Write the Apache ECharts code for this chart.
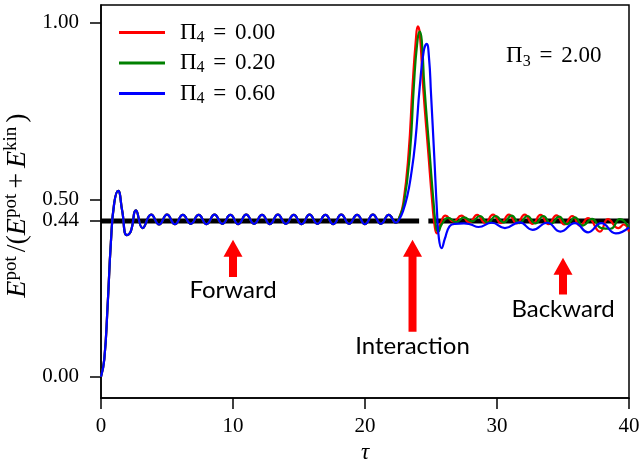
<!DOCTYPE html>
<html><head><meta charset="utf-8">
<script src="https://cdn.jsdelivr.net/npm/echarts@6/dist/echarts.min.js"></script>
<style>html,body{margin:0;padding:0;background:#fff}#c{width:641px;height:462px}</style>
</head><body><div id="c"></div>
<script>
// ---- data ----
const xTicks = [0, 10, 20, 30, 40];
const yTicks = [0, 0.44, 0.5, 1.0];
const seriesNames = ['Π4 = 0.00', 'Π4 = 0.20', 'Π4 = 0.60'];
const seriesColors = ['#ff0000', '#008000', '#0000ff'];

// common forward-propagation part (identical for all three)
const forwardPart = [
  [0,0],[0.25,0.05],[0.5,0.2],[0.75,0.38],[1.0,0.49],[1.3,0.525],[1.6,0.47],[1.95,0.40],
  [2.25,0.41],[2.65,0.47],[3.15,0.42],[3.8,0.458],[4.4,0.43],[5.0,0.458],[5.6,0.431],
  [6.2,0.457],[6.8,0.432],[7.4,0.457],[8.0,0.431],[8.6,0.458],[9.2,0.432],[9.8,0.457],
  [10.4,0.431],[11.0,0.458],[11.6,0.432],[12.2,0.457],[12.8,0.431],[13.4,0.458],[14.0,0.432],
  [14.6,0.457],[15.2,0.431],[15.8,0.458],[16.4,0.432],[17.0,0.457],[17.6,0.431],[18.2,0.458],
  [18.8,0.432],[19.4,0.457],[20.0,0.431],[20.6,0.458],[21.2,0.432],[21.8,0.457],[22.35,0.435]
];
const redAfter = [
  [22.6,0.45],[22.9,0.49],[23.3,0.63],[23.6,0.82],[23.85,0.95],[24.0,0.99],[24.15,0.97],
  [24.4,0.82],[24.8,0.63],[25.1,0.49],[25.3,0.42],[25.45,0.405],[25.7,0.43],[26.1,0.455],
  [26.7,0.438],[27.3,0.455],[27.9,0.436],[28.5,0.457],[29.1,0.435],[29.7,0.458],[30.3,0.434],
  [30.9,0.458],[31.5,0.433],[32.1,0.458],[32.7,0.432],[33.3,0.457],[33.9,0.431],[34.5,0.456],
  [35.1,0.43],[35.7,0.454],[36.3,0.427],[36.9,0.448],[37.8,0.41],[38.4,0.445],[39.2,0.42],
  [39.6,0.43],[40,0.41]
];
const greenAfter = [
  [22.6,0.45],[22.95,0.49],[23.4,0.63],[23.7,0.82],[23.95,0.94],[24.15,0.975],[24.3,0.95],
  [24.5,0.82],[24.9,0.63],[25.2,0.49],[25.4,0.42],[25.55,0.41],[25.8,0.43],[26.3,0.449],
  [26.9,0.437],[27.5,0.45],[28.1,0.439],[28.7,0.454],[29.3,0.435],[29.9,0.454],[30.5,0.436],
  [31.1,0.455],[31.7,0.434],[32.3,0.454],[32.9,0.433],[33.5,0.454],[34.1,0.432],[34.7,0.452],
  [35.3,0.431],[35.9,0.45],[36.5,0.427],[37.2,0.446],[37.9,0.42],[38.6,0.418],[39.3,0.445],
  [40,0.42]
];
const blueAfter = [
  [22.6,0.445],[22.9,0.47],[23.2,0.51],[23.45,0.56],[23.8,0.66],[24.15,0.82],[24.45,0.92],
  [24.67,0.94],[24.85,0.9],[25.0,0.8],[25.25,0.62],[25.45,0.47],[25.6,0.39],[25.8,0.363],
  [26.05,0.39],[26.4,0.425],[26.8,0.432],[27.5,0.433],[28.0,0.43],[28.6,0.423],[29.6,0.435],
  [30.6,0.42],[31.7,0.436],[32.7,0.415],[33.8,0.435],[34.8,0.41],[35.9,0.434],[36.9,0.408],
  [37.9,0.434],[39.0,0.405],[40,0.422]
];
const refLevel = 0.44;
const refSegments = [[0, 24.1], [24.8, 40]];
// annotation arrows (data coordinates): x, arrow tip, arrow tail, label centre
const arrowLabels = ['Forward', 'Interaction', 'Backward'];
const arrowX = [10, 23.6, 35];
const arrowTip = [0.387, 0.387, 0.336];
const arrowTail = [0.282, 0.127, 0.232];
const arrowTextY = [0.243, 0.085, 0.19];
const paramText = { label: 'Π3 = 2.00', x: 34.3, y: 0.905 };

// ---- chart ----
const serif = 'Liberation Serif';
const chart = echarts.init(document.getElementById('c'), null, { renderer: 'canvas' });
const allData = [forwardPart.concat(redAfter), forwardPart.concat(greenAfter), forwardPart.concat(blueAfter)];

const mathRich = {
  p: { fontFamily: serif, fontSize: 23, lineHeight: 26, color: '#000' },
  q: { fontFamily: serif, fontSize: 23, lineHeight: 26, color: '#000', padding: [0, 3, 0, 3] },
  s: { fontFamily: serif, fontSize: 16, lineHeight: 16, verticalAlign: 'bottom', color: '#000' }
};
function piLabel(name) {
  const m = name.match(/^Π(\d) = (.*)$/);
  return '{p|Π}{s|' + m[1] + '}{q| = }{p|' + m[2] + '}';
}

const series = [];
refSegments.forEach((seg, i) => {
  series.push({
    name: 'ref' + i, type: 'line', data: [[seg[0], refLevel], [seg[1], refLevel]],
    showSymbol: false, symbol: 'none', silent: true,
    lineStyle: { color: '#000', width: 5 }, itemStyle: { color: '#000' }
  });
});
seriesNames.forEach((n, i) => {
  series.push({
    name: n, type: 'line', data: allData[i], smooth: 0.5, symbol: 'none', showSymbol: false,
    lineStyle: { color: seriesColors[i], width: 2.2 }, itemStyle: { color: seriesColors[i] }
  });
});

chart.setOption({
  animation: false,
  backgroundColor: '#fff',
  grid: { left: 101, right: 12, top: 5, bottom: 64, show: true, borderColor: '#000', borderWidth: 1.5,
          containLabel: false, outerBoundsMode: 'none' },
  legend: {
    data: seriesNames, orient: 'vertical', left: 114, top: 16, icon: 'rect',
    itemWidth: 46, itemHeight: 3, itemGap: 6,
    formatter: piLabel, textStyle: { rich: mathRich, padding: [0, 0, 0, 10] }
  },
  xAxis: {
    type: 'value', min: 0, max: 40,
    axisLine: { onZero: false, lineStyle: { color: '#000', width: 1.5 } },
    axisTick: { customValues: xTicks, length: 11, lineStyle: { color: '#000', width: 1.5 } },
    axisLabel: { customValues: xTicks, color: '#000', fontFamily: serif, fontSize: 21, margin: 18 },
    splitLine: { show: false },
    name: 'τ', nameLocation: 'middle', nameGap: 40,
    nameTextStyle: { color: '#000', fontFamily: serif, fontStyle: 'italic', fontSize: 23 }
  },
  yAxis: {
    type: 'value', min: -0.06, max: 1.05,
    axisLine: { onZero: false, lineStyle: { color: '#000', width: 1.5 } },
    axisTick: { customValues: yTicks, length: 11, lineStyle: { color: '#000', width: 1.5 } },
    axisLabel: { customValues: yTicks, color: '#000', fontFamily: serif, fontSize: 21, margin: 22,
                 formatter: v => v.toFixed(2) },
    splitLine: { show: false },
    name: '{e|E}{sup|pot}{n|/(}{e|E}{sup|pot}{q|+}{e|E}{sup|kin}{n|)}',
    nameLocation: 'middle', nameGap: 66, nameRotate: 90,
    nameTextStyle: {
      padding: [0, 8, 0, 0],
      rich: {
        e: { fontFamily: serif, fontStyle: 'italic', fontSize: 28, lineHeight: 32, color: '#000' },
        n: { fontFamily: serif, fontSize: 28, lineHeight: 32, color: '#000', padding: [0, 0, 0, 4] },
        q: { fontFamily: serif, fontSize: 28, lineHeight: 32, color: '#000', padding: [0, 5, 0, 5] },
        sup: { fontFamily: serif, fontSize: 19, lineHeight: 19, verticalAlign: 'top', color: '#000' }
      }
    }
  },
  series: series
});

// annotations positioned via the axes
const graphics = [];
arrowLabels.forEach((t, i) => {
  const tip = chart.convertToPixel({ gridIndex: 0 }, [arrowX[i], arrowTip[i]]);
  const tail = chart.convertToPixel({ gridIndex: 0 }, [arrowX[i], arrowTail[i]]);
  const lab = chart.convertToPixel({ gridIndex: 0 }, [arrowX[i], arrowTextY[i]]);
  const cx = tip[0], hw = 9.5, sw = 4, hl = 17;
  graphics.push({
    type: 'polygon', silent: true,
    shape: { points: [[cx, tip[1]], [cx + hw, tip[1] + hl], [cx + sw, tip[1] + hl], [cx + sw, tail[1]],
                      [cx - sw, tail[1]], [cx - sw, tip[1] + hl], [cx - hw, tip[1] + hl]] },
    style: { fill: '#ff0000' }
  });
  graphics.push({
    type: 'text', silent: true, x: lab[0], y: lab[1],
    style: { text: t, fontFamily: 'Lato', fontSize: 24, fill: '#000', align: 'center', verticalAlign: 'middle' }
  });
});
const pp = chart.convertToPixel({ gridIndex: 0 }, [paramText.x, paramText.y]);
graphics.push({
  type: 'text', silent: true, x: pp[0], y: pp[1],
  style: { text: piLabel(paramText.label), rich: mathRich, align: 'center', verticalAlign: 'middle' }
});
chart.setOption({ graphic: graphics });
</script>
</body></html>
